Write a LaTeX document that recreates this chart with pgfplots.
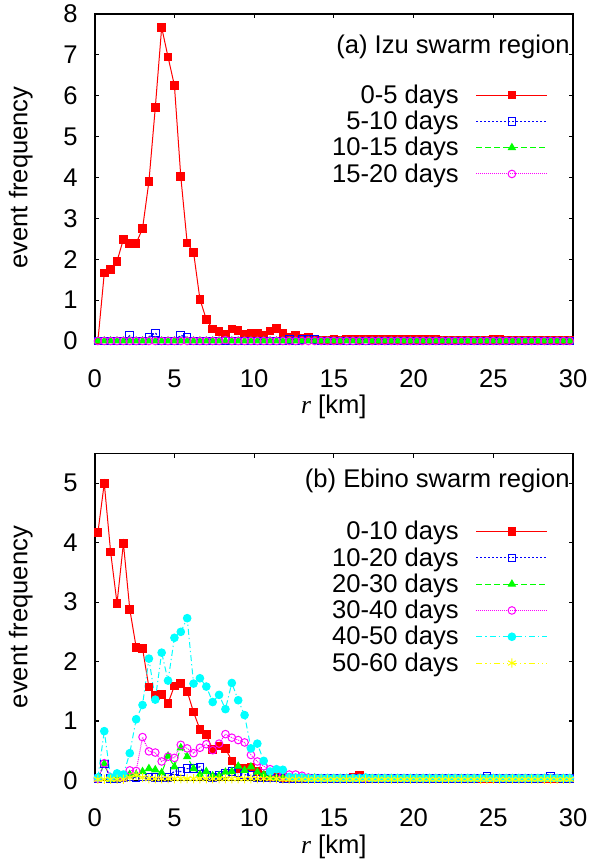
\documentclass[border=0pt]{standalone}
\usepackage{fontspec}
\setmainfont{Liberation Sans}
\newfontfamily\serifit{Liberation Serif}
\usepackage{pgfplots}
\usepackage{pgfplotstable}
\pgfplotsset{compat=1.18}
\definecolor{gred}{RGB}{255,0,0}
\definecolor{gblue}{RGB}{0,0,255}
\definecolor{ggreen}{RGB}{0,255,0}
\definecolor{gmag}{RGB}{255,0,255}
\definecolor{gcyan}{RGB}{0,255,255}
\definecolor{gyellow}{RGB}{255,255,0}

\pgfplotstableread{
r a b c d
0.2 0 0 0 0
0.6 1.66 0 0 0
1.0 1.75 0 0 0
1.4 1.95 0 0 0
1.8 2.49 0 0 0
2.2 2.39 0.13 0 0
2.6 2.39 0 0 0
3.0 2.75 0 0 0
3.4 3.90 0.10 0 0
3.8 5.71 0.20 0 0
4.2 7.67 0 0 0
4.6 6.95 0 0 0
5.0 6.25 0 0 0
5.4 4.02 0.14 0 0
5.8 2.40 0.08 0 0
6.2 2.17 0 0 0
6.6 1.02 0 0 0
7.0 0.53 0 0 0
7.4 0.29 0 0 0
7.8 0.23 0 0 0
8.2 0.17 0 0 0.02
8.6 0.29 0 0 0
9.0 0.25 0 0 0
9.4 0.17 0 0 0
9.8 0.20 0 0 0
10.2 0.19 0 0 0
10.6 0.15 0 0 0
11.0 0.24 0 0 0
11.4 0.31 0 0 0
11.8 0.19 0 0 0
12.2 0.10 0.03 0 0
12.6 0.13 0 0 0
13.0 0.06 0.03 0 0
13.4 0.10 0.05 0 0
13.8 0.04 0.03 0 0
14.2 0.02 0 0 0
14.6 0.02 0 0 0
15.0 0.03 0 0 0
15.4 0.02 0 0 0
15.8 0.05 0 0 0
16.2 0.05 0 0 0
16.6 0.03 0 0 0
17.0 0.05 0 0 0
17.4 0.03 0 0 0
17.8 0.03 0 0 0
18.2 0.03 0 0 0
18.6 0.03 0 0 0
19.0 0.03 0 0 0
19.4 0.03 0 0 0
19.8 0.03 0 0 0
20.2 0.03 0 0 0
20.6 0.03 0 0 0
21.0 0.03 0 0 0
21.4 0.03 0 0 0
21.8 0.02 0 0 0
22.2 0.01 0 0 0
22.6 0.01 0 0 0
23.0 0.01 0 0 0
23.4 0.01 0 0 0
23.8 0.01 0 0 0
24.2 0.01 0 0 0
24.6 0.01 0 0 0
25.0 0.03 0 0 0
25.4 0.03 0 0 0
25.8 0.01 0 0 0
26.2 0.01 0 0 0
26.6 0.01 0 0 0
27.0 0.01 0 0 0
27.4 0.01 0 0 0
27.8 0.01 0 0 0
28.2 0.01 0 0 0
28.6 0.01 0 0 0
29.0 0.01 0 0 0
29.4 0.01 0 0 0
29.8 0.01 0 0 0
}\izu

\pgfplotstableread{
r a b c d e f
0.2 4.17 0.03 0.03 0.03 0.05 0.02
0.6 5.00 0.28 0.28 0.29 0.83 0.02
1.0 3.84 0.03 0.02 0.05 0.05 0.02
1.4 2.98 0.03 0.02 0.05 0.12 0.02
1.8 3.99 0.04 0.06 0.05 0.10 0.02
2.2 2.88 0.06 0.10 0.17 0.46 0.05
2.6 2.24 0.05 0.10 0.16 1.03 0.09
3.0 2.22 0.06 0.15 0.73 1.27 0.05
3.4 1.57 0.06 0.20 0.49 2.05 0.03
3.8 1.43 0.05 0.18 0.47 1.36 0.03
4.2 1.45 0.05 0.13 0.32 2.15 0.03
4.6 1.30 0.05 0.41 0.40 1.68 0.03
5.0 1.59 0.16 0.23 0.38 2.40 0.03
5.4 1.63 0.15 0.55 0.60 2.50 0.03
5.8 1.50 0.20 0.40 0.54 2.73 0.03
6.2 1.15 0.20 0.20 0.46 1.63 0.03
6.6 0.86 0.23 0.10 0.55 1.72 0.03
7.0 0.77 0.08 0.15 0.61 1.58 0.03
7.4 0.52 0.05 0.08 0.51 1.32 0.03
7.8 0.58 0.08 0.08 0.62 1.44 0.03
8.2 0.54 0.12 0.14 0.78 1.20 0.03
8.6 0.33 0.15 0.15 0.72 1.64 0.03
9.0 0.20 0.13 0.24 0.68 1.35 0.03
9.4 0.20 0.10 0.17 0.64 1.10 0.03
9.8 0.23 0.08 0.23 0.43 0.54 0.03
10.2 0.15 0.05 0.14 0.32 0.62 0.03
10.6 0.08 0.05 0.10 0.24 0.33 0.03
11.0 0.06 0.04 0.05 0.19 0.15 0.03
11.4 0.05 0.04 0.04 0.10 0.19 0.03
11.8 0.05 0.03 0.04 0.07 0.18 0.02
12.2 0.04 0.03 0.03 0.10 0.06 0.02
12.6 0.04 0.03 0.03 0.10 0.05 0.02
13.0 0.04 0.03 0.03 0.08 0.05 0.02
13.4 0.04 0.03 0.03 0.05 0.04 0.02
13.8 0.04 0.03 0.04 0.04 0.04 0.02
14.2 0.03 0.03 0.03 0.04 0.04 0.02
14.6 0.03 0.03 0.03 0.04 0.04 0.02
15.0 0.03 0.03 0.03 0.04 0.04 0.02
15.4 0.03 0.03 0.03 0.04 0.04 0.02
15.8 0.03 0.03 0.03 0.04 0.04 0.02
16.2 0.06 0.03 0.03 0.04 0.04 0.02
16.6 0.08 0.03 0.03 0.04 0.04 0.02
17.0 0.04 0.03 0.03 0.04 0.05 0.02
17.4 0.03 0.03 0.03 0.04 0.04 0.02
17.8 0.03 0.03 0.03 0.04 0.04 0.02
18.2 0.03 0.03 0.03 0.04 0.04 0.02
18.6 0.03 0.03 0.03 0.04 0.04 0.02
19.0 0.03 0.03 0.03 0.04 0.04 0.02
19.4 0.03 0.03 0.03 0.04 0.04 0.02
19.8 0.03 0.03 0.03 0.04 0.04 0.02
20.2 0.03 0.03 0.03 0.04 0.04 0.02
20.6 0.03 0.03 0.03 0.04 0.04 0.02
21.0 0.03 0.03 0.03 0.04 0.04 0.02
21.4 0.03 0.03 0.03 0.04 0.04 0.02
21.8 0.03 0.03 0.03 0.04 0.04 0.02
22.2 0.03 0.03 0.03 0.04 0.04 0.02
22.6 0.03 0.03 0.03 0.04 0.04 0.02
23.0 0.03 0.03 0.03 0.04 0.04 0.02
23.4 0.03 0.03 0.03 0.04 0.04 0.02
23.8 0.03 0.03 0.03 0.04 0.04 0.02
24.2 0.03 0.04 0.03 0.04 0.04 0.02
24.6 0.03 0.07 0.03 0.04 0.04 0.02
25.0 0.03 0.04 0.03 0.04 0.04 0.02
25.4 0.03 0.03 0.03 0.04 0.04 0.02
25.8 0.03 0.03 0.03 0.04 0.04 0.02
26.2 0.03 0.03 0.03 0.04 0.04 0.02
26.6 0.03 0.03 0.03 0.04 0.04 0.02
27.0 0.03 0.03 0.03 0.04 0.04 0.02
27.4 0.03 0.03 0.03 0.04 0.04 0.02
27.8 0.03 0.03 0.03 0.04 0.04 0.02
28.2 0.03 0.04 0.03 0.04 0.04 0.02
28.6 0.03 0.07 0.03 0.04 0.04 0.02
29.0 0.03 0.04 0.03 0.04 0.04 0.02
29.4 0.03 0.03 0.03 0.04 0.04 0.02
29.8 0.03 0.03 0.03 0.04 0.04 0.02
}\ebino

\newcommand{\fnt}{\fontsize{12.8}{15}\selectfont}

\pgfplotsset{
  common/.style={
    scale only axis, width=239.15pt, height=163.5pt,
    xmin=0, xmax=30, xtick={0,5,...,30}, ymin=0,
    tick align=inside, tick pos=both,
    major tick length=2.2pt,
    axis line style={line width=0.8pt},
    every tick/.style={line width=0.6pt, black},
    clip=false,
    font=\fnt,
    /pgf/number format/assume math mode=true,
    xticklabel style={anchor=north, inner sep=0pt, yshift=-14pt, font=\fnt},
    yticklabel style={anchor=east, inner sep=0pt, xshift=-8.35pt, font=\fnt},
    xlabel={{\serifit\itshape r} [km]},
    xlabel style={at={(axis description cs:0.5,0)}, anchor=base, inner sep=0pt, yshift=-36.3pt, font=\fnt},
    ylabel={event frequency},
    ylabel style={at={(axis description cs:-0.1405,0.5)}, anchor=base, inner sep=0pt, font=\fnt},
    legend cell align=right,
    legend plot pos=right,
    legend image code/.code={\draw[mark repeat=2,mark phase=2] plot coordinates {(0pt,0pt) (17.75pt,0pt) (35.5pt,0pt)};},
    legend style={draw=none, fill=none, inner sep=0pt, outer sep=0pt, font=\fnt,
      at={(rel axis cs:1,1)}, anchor=north east, xshift=-12.5pt,
      row sep=0pt,
      nodes={inner sep=0pt, text height=10.7pt, text depth=2.45pt},
      /tikz/every odd column/.append style={column sep=8.5pt}},
  },
  sred/.style={gred, line width=0.5pt, mark=square*, mark size=1.9pt, mark options={solid, fill=gred}},
  sblue/.style={gblue, line width=0.6pt, dash pattern=on 1pt off 1pt, mark=square, mark size=1.9pt, mark options={solid, line width=0.5pt}},
  sgreen/.style={ggreen, line width=0.5pt, dash pattern=on 3pt off 1.5pt, mark=triangle*, mark size=2pt, mark options={solid, fill=ggreen}},
  smag/.style={gmag, line width=0.5pt, dash pattern=on 0.5pt off 0.5pt, mark=o, mark size=1.9pt, mark options={solid}},
  scyan/.style={gcyan, line width=0.5pt, dash pattern=on 3pt off 1.5pt on 0.6pt off 1.5pt, mark=*, mark size=1.9pt, mark options={solid, fill=gcyan}},
  syellow/.style={gyellow, line width=0.5pt, dash pattern=on 3pt off 1.5pt on 0.6pt off 1.5pt on 0.6pt off 1.5pt, mark=asterisk, mark size=2.3pt, mark options={solid}},
}

\begin{document}
\begin{tikzpicture}
\useasboundingbox (0,0) rectangle (296pt,430pt);
\begin{axis}[common, at={(47.35pt,259.5pt)}, anchor=south west,
  ymax=8, ytick={0,1,...,8},
  legend style={yshift=-33.95pt}]
\addplot[sred] table[x=r, y=a] {\izu};
\addlegendentry{0-5 days}
\addplot[sblue] table[x=r, y=b] {\izu};
\addlegendentry{5-10 days}
\addplot[sgreen] table[x=r, y=c] {\izu};
\addlegendentry{10-15 days}
\addplot[smag] table[x=r, y=d] {\izu};
\addlegendentry{15-20 days}
\node[anchor=base east, inner sep=0pt, font=\fnt] at (rel axis cs:1,1) [xshift=-1.5pt, yshift=-19.75pt] {(a) Izu swarm region};
\end{axis}
\begin{axis}[common, at={(47.35pt,39.75pt)}, anchor=south west,
  ymax=5.5, ytick={0,1,...,5},
  legend style={yshift=-32.45pt}]
\addplot[sred] table[x=r, y=a] {\ebino};
\addlegendentry{0-10 days}
\addplot[sblue] table[x=r, y=b] {\ebino};
\addlegendentry{10-20 days}
\addplot[sgreen] table[x=r, y=c] {\ebino};
\addlegendentry{20-30 days}
\addplot[smag] table[x=r, y=d] {\ebino};
\addlegendentry{30-40 days}
\addplot[scyan] table[x=r, y=e] {\ebino};
\addlegendentry{40-50 days}
\addplot[syellow] table[x=r, y=f] {\ebino};
\addlegendentry{50-60 days}
\node[anchor=base east, inner sep=0pt, font=\fnt] at (rel axis cs:1,1) [xshift=-1.5pt, yshift=-17pt] {(b) Ebino swarm region};
\end{axis}
\end{tikzpicture}
\end{document}
